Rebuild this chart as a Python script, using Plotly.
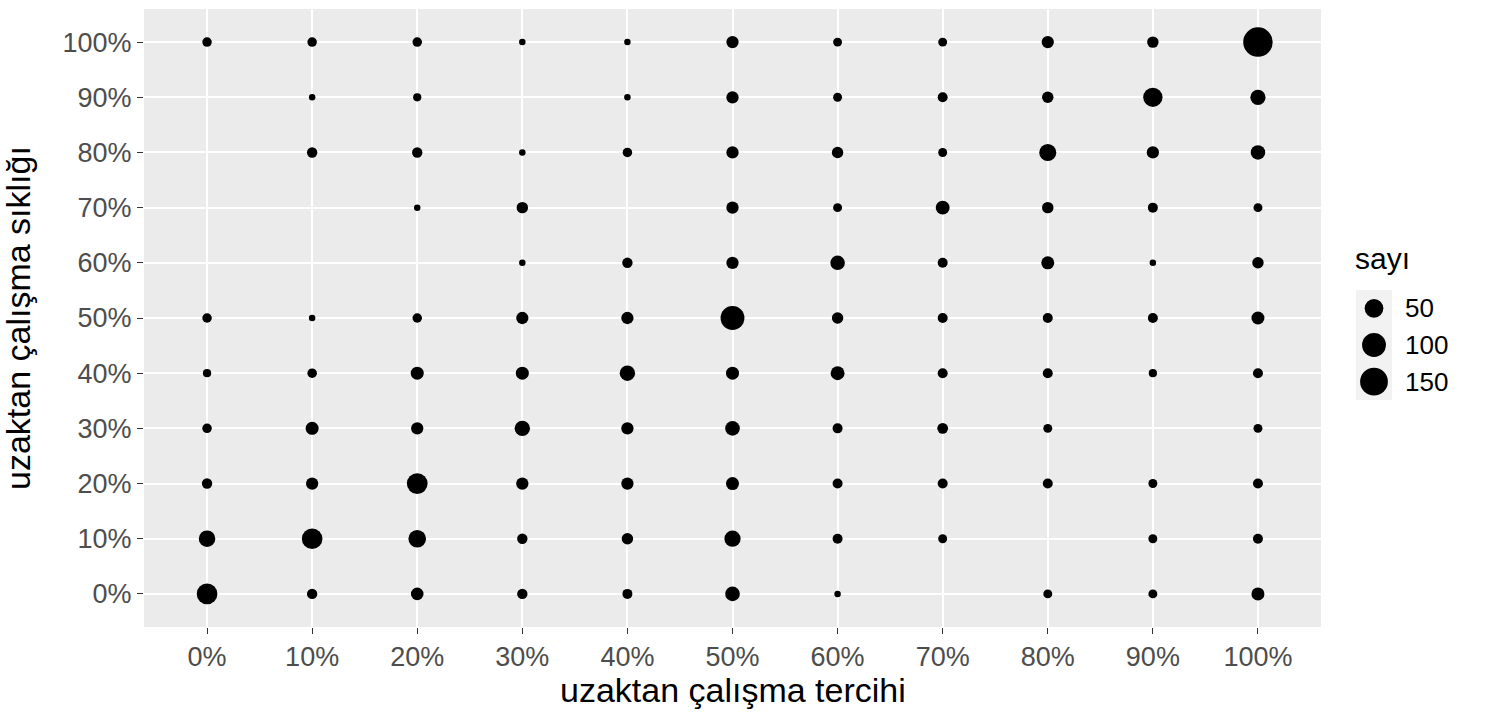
import plotly.graph_objects as go

# categories (percent levels) for both axes
levels = ["0%", "10%", "20%", "30%", "40%", "50%", "60%", "70%", "80%", "90%", "100%"]

# counts per cell, one row per y level (0% .. 100%), columns follow x levels
sayi_rows = [
    [67, 6, 13, 6, 5, 23, 1, 0, 3, 3, 15],      # y 0%
    [34, 67, 42, 6, 9, 32, 5, 3, 0, 3, 5],      # y 10%
    [6, 12, 68, 12, 12, 15, 5, 5, 5, 3, 5],     # y 20%
    [4, 15, 12, 27, 12, 23, 5, 7, 3, 0, 3],     # y 30%
    [2, 4, 15, 15, 27, 15, 19, 5, 5, 2, 5],     # y 40%
    [4, 1, 4, 12, 12, 100, 9, 5, 5, 5, 15],     # y 50%
    [0, 0, 0, 1, 6, 12, 22, 5, 15, 1, 9],       # y 60%
    [0, 0, 1, 9, 0, 12, 3, 19, 9, 5, 3],        # y 70%
    [0, 6, 6, 1, 4, 12, 9, 3, 38, 12, 22],      # y 80%
    [0, 1, 2, 0, 1, 12, 3, 5, 9, 55, 26],       # y 90%
    [4, 4, 4, 1, 1, 12, 3, 3, 12, 9, 175],      # y 100%
]

legend_values = [50, 100, 150]

x_title = "uzaktan çalışma tercihi"
y_title = "uzaktan çalışma sıklığı"
legend_title = "sayı"

# flatten grid into point lists (empty cells are skipped)
xs, ys, ns = [], [], []
for yi, row in enumerate(sayi_rows):
    for xi, n in enumerate(row):
        if n > 0:
            xs.append(levels[xi])
            ys.append(levels[yi])
            ns.append(n)

n_min, n_max = min(ns), max(ns)


def dot_size(n):
    # area scale like ggplot's scale_size (diameter in px)
    t = (n - n_min) / (n_max - n_min)
    return 6.5 + 23 * t ** 0.5


FONT = "Liberation Sans, Arial, sans-serif"

fig = go.Figure()
fig.add_trace(go.Scatter(
    x=xs, y=ys, mode="markers",
    marker=dict(size=[dot_size(n) for n in ns], color="black", opacity=1, line=dict(width=0)),
    hovertemplate="%{x}, %{y}: %{text}<extra></extra>", text=ns,
    showlegend=False,
))

# hand-made size legend on its own small axes
fig.add_trace(go.Scatter(
    x=[0.5] * len(legend_values), y=list(range(1, len(legend_values) + 1)),
    mode="markers", xaxis="x2", yaxis="y2",
    marker=dict(size=[dot_size(v) for v in legend_values], color="black", opacity=1, line=dict(width=0)),
    hoverinfo="skip", showlegend=False,
))

main_right = 1177 / 1324

fig.update_layout(
    width=1488, height=720,
    margin=dict(l=144, r=20, t=9, b=93),
    paper_bgcolor="white",
    plot_bgcolor="#EBEBEB",
    font=dict(family=FONT, color="#4D4D4D", size=27),
    xaxis=dict(
        domain=[0, main_right],
        type="category", categoryorder="array", categoryarray=levels,
        range=[-0.6, 10.6],
        showgrid=True, gridcolor="white", gridwidth=1.6,
        zeroline=False, showline=False,
        ticks="outside", ticklen=6, tickwidth=1.3, tickcolor="#333333",
        tickfont=dict(size=27, color="#4D4D4D"),
    ),
    yaxis=dict(
        type="category", categoryorder="array", categoryarray=levels,
        range=[-0.6, 10.6],
        showgrid=True, gridcolor="white", gridwidth=1.6,
        zeroline=False, showline=False,
        ticks="outside", ticklen=6, tickwidth=1.3, tickcolor="#333333",
        tickfont=dict(size=27, color="#4D4D4D"),
    ),
    xaxis2=dict(
        domain=[(1356 - 144) / 1324, (1392 - 144) / 1324],
        range=[0, 1], anchor="y2",
        showgrid=False, zeroline=False, showticklabels=False, ticks="",
    ),
    yaxis2=dict(
        domain=[(627 - 400) / 618, (627 - 290) / 618],
        range=[3.5, 0.5], anchor="x2",
        showgrid=False, zeroline=False, showticklabels=False, ticks="",
    ),
    shapes=[dict(
        type="rect", xref="x2 domain", yref="y2 domain",
        x0=0, x1=1, y0=0, y1=1,
        fillcolor="#F2F2F2", line=dict(width=0), layer="below",
    )],
)

annotations = [
    dict(text=x_title, xref="paper", yref="paper", x=main_right / 2, y=(627 - 690) / 618,
         xanchor="center", yanchor="middle", showarrow=False,
         font=dict(size=34, color="black", family=FONT)),
    dict(text=y_title, xref="paper", yref="paper", x=(18 - 144) / 1324, y=0.5,
         xanchor="center", yanchor="middle", textangle=-90, showarrow=False,
         font=dict(size=34, color="black", family=FONT)),
    dict(text=legend_title, xref="paper", yref="paper", x=(1353 - 144) / 1324, y=(627 - 258) / 618,
         xanchor="left", yanchor="middle", showarrow=False,
         font=dict(size=30, color="black", family=FONT)),
]
for i, v in enumerate(legend_values):
    annotations.append(dict(
        text=str(v), xref="x2 domain", yref="y2", x=1.3, y=i + 1,
        xanchor="left", yanchor="middle", showarrow=False,
        font=dict(size=26, color="black", family=FONT),
    ))
fig.update_layout(annotations=annotations)

# drop the browser's default body margin so the figure sits at the page corner
fig.write_html("out.html", config={"displayModeBar": False},
               post_script="document.body.style.margin='0';")
